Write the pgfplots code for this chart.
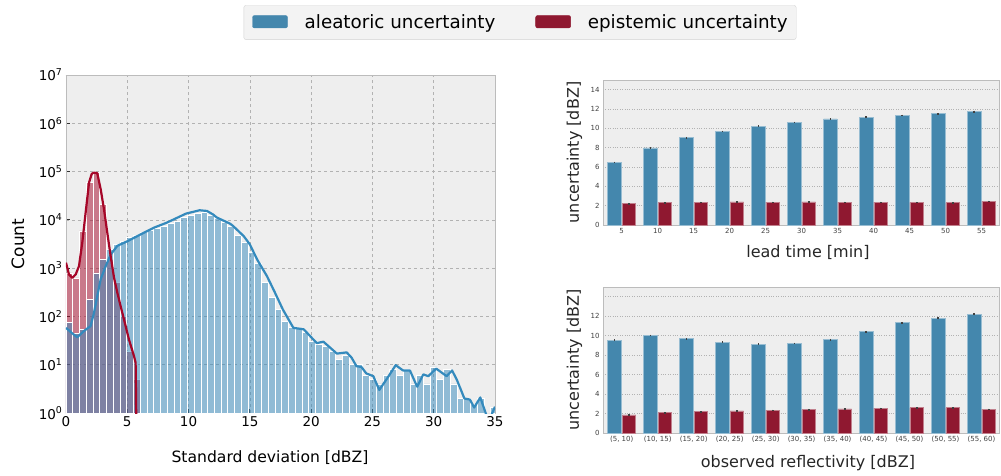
\documentclass[border=0pt]{standalone}
\usepackage{fontspec}
\setmainfont{DejaVu Sans}
\usepackage{pgfplots}
\pgfplotsset{compat=1.18}
\definecolor{bmhblue}{HTML}{348ABD}
\definecolor{bmhred}{HTML}{A60628}
\definecolor{barblue}{RGB}{68,135,173}
\definecolor{barred}{RGB}{143,24,48}
\definecolor{bgc}{HTML}{EEEEEE}
\definecolor{framec}{HTML}{BCBCBC}
\definecolor{gridc}{HTML}{B2B2B2}
\begin{document}
\begin{tikzpicture}
\path[use as bounding box] (0,0) rectangle (1001pt,475pt);
% ---------------- left histogram ----------------
\begin{axis}[
 at={(66pt,62pt)}, anchor=south west, scale only axis, width=429pt, height=338pt,
 xmin=0, xmax=35, ymin=1, ymax=1e7, ymode=log, log basis y=10,
 axis background/.style={fill=bgc},
 axis line style={framec, line width=0.8pt},
 grid=major, major grid style={gridc, dashed, line width=0.6pt},
 xtick={0,5,...,35}, ytick={1,10,100,1000,10000,100000,1000000,10000000},
 yticklabels={10\textsuperscript{0},10\textsuperscript{1},10\textsuperscript{2},10\textsuperscript{3},10\textsuperscript{4},10\textsuperscript{5},10\textsuperscript{6},10\textsuperscript{7}},
 tick align=inside, xtick pos=lower, ytick pos=lower,
 major tick length=4pt, minor tick length=2.5pt,
 tick style={black!80, line width=0.8pt},
 ticklabel style={font=\fontsize{13.5}{16}\selectfont},
 /pgf/number format/assume math mode=true,
 xlabel={Standard deviation [dBZ]}, ylabel={Count},
 xlabel style={font=\fontsize{15.6}{18}\selectfont, at={(axis description cs:0.4755,-0.132)}, anchor=center},
 ylabel style={font=\fontsize{17}{20}\selectfont, at={(axis description cs:-0.112,0.5)}, anchor=center},
]
% epistemic histogram
\addplot[ybar, bar width=0.55, bar shift=0pt, fill=bmhred, fill opacity=0.5, draw=white, line width=0.6pt] coordinates {
(0.275,800) (0.825,630) (1.375,5900) (1.925,59000) (2.475,95000) (3.025,21000)
(3.575,1500) (4.125,500) (4.675,100) (5.225,19) (5.775,5)
};
% aleatoric histogram
\addplot[ybar, bar width=0.55, bar shift=0pt, fill=bmhblue, fill opacity=0.5, draw=white, line width=0.6pt] coordinates {
(0.275,74) (0.825,45) (1.375,54) (1.925,225) (2.475,800) (3.025,1500)
(3.575,2450) (4.125,3100) (4.675,3600) (5.225,4300) (5.775,4800) (6.325,5400)
(6.875,6000) (7.425,6600) (7.975,7400) (8.525,8300) (9.075,9500) (9.625,11200)
(10.175,12600) (10.725,13800) (11.275,14100) (11.825,12600) (12.375,10700) (12.925,9100)
(13.475,7400) (14.025,4800) (14.575,3500) (15.125,2100) (15.675,1260) (16.225,500)
(16.775,250) (17.325,140) (17.875,80) (18.425,60) (18.975,58) (19.525,46)
(20.075,30) (20.625,27) (21.175,24) (21.725,19) (22.275,13) (22.825,16)
(23.375,10) (23.925,10) (24.475,6) (25.025,5) (25.575,4) (26.125,6)
(26.675,8) (27.225,6) (27.775,8) (28.325,4) (28.875,6) (29.425,4)
(29.975,9) (30.525,5) (31.075,8) (31.625,4) (32.175,2) (32.725,2)
(33.275,1.5) (33.825,2) (34.375,1) (34.925,1.3)
};
% aleatoric KDE
\addplot[bmhblue, line width=2.2pt, line join=round] coordinates {
(0,58) (0.5,45) (0.92,37) (1.47,50) (2.0,63) (2.28,117) (2.55,263) (2.83,590)
(3.24,1100) (3.64,1900) (4.19,2900) (5.0,3600) (6.09,5000) (7.18,6900) (8.2,8700)
(9.8,13500) (10.9,15800) (11.5,15300) (12.0,12900) (12.3,11200) (13.4,8300) (13.65,7400)
(14.5,4600) (15.0,3100) (15.6,1500) (16.4,680) (17.0,330) (17.7,138) (18.55,58) (19.4,54)
(20.46,28) (21.0,30) (22.1,17) (22.9,18) (23.3,14) (23.7,9.3) (24.1,9) (24.5,6.6)
(25.07,5.8) (25.56,3) (26.2,5.2) (26.9,9.8) (27.5,7.6) (28.06,7.6) (28.65,3.5)
(29.15,6.3) (29.56,5.8) (30.2,8.3) (31.05,5.8) (31.5,7.6) (31.9,4.8) (32.5,2)
(32.95,1.9) (33.3,1.3) (33.8,2.1) (34.3,0.9) (34.7,0.9) (35,1.35)
};
% epistemic KDE
\addplot[bmhred, line width=2.2pt, line join=round] coordinates {
(0,1300) (0.24,740) (0.52,630) (0.79,740) (1.06,1100) (1.33,3400) (1.6,14000)
(1.88,59000) (2.1,90000) (2.28,95000) (2.55,93000) (2.83,43000) (3.1,16600)
(3.37,5400) (3.64,1800) (3.92,630) (4.19,310) (4.46,162) (4.73,87) (5.14,33)
(5.55,15) (5.68,11) (5.74,0.5)
};
\end{axis}
% ---------------- right top: lead time ----------------
\begin{axis}[
 at={(603pt,250pt)}, anchor=south west, scale only axis, width=396.5pt, height=145pt,
 xmin=-0.52, xmax=10.5, ymin=0, ymax=15,
 axis background/.style={fill=bgc},
 axis line style={framec, line width=1pt},
 ymajorgrids, major grid style={gridc, dotted, line width=0.7pt},
 xtick={0,...,10}, xticklabels={5,10,15,20,25,30,35,40,45,50,55},
 ytick={0,2,...,14},
 major tick length=0pt,
 ticklabel style={font=\fontsize{7}{8}\selectfont, text=black!75},
 /pgf/number format/assume math mode=true,
 xlabel={lead time [min]}, ylabel={uncertainty [dBZ]},
 xlabel style={font=\fontsize{16}{19}\selectfont, at={(axis description cs:0.517,-0.19)}, anchor=center, text=black!85},
 ylabel style={font=\fontsize{16}{19}\selectfont, at={(axis description cs:-0.072,0.5)}, anchor=center, text=black!85},
 ybar=0pt, bar width=0.38,
 legend style={at={(axis description cs:-0.2093,1.3966)}, anchor=center, legend columns=2,
   draw=black!18, fill=bgc!70!white, rounded corners=2pt, font=\fontsize{18.3}{21}\selectfont,
   nodes={inner sep=0pt, text depth=0.2em},
   inner xsep=8.5pt, inner ysep=9pt,
   /tikz/every odd column/.append style={column sep=17pt},
   /tikz/every even column/.append style={column sep=40pt}},
 legend cell align=left,
]
\addlegendimage{legend image code/.code={\fill[barblue] (0pt,-5.5pt) rectangle (35pt,7pt);}}
\addlegendentry{aleatoric uncertainty}
\addlegendimage{legend image code/.code={\fill[barred] (0pt,-5.5pt) rectangle (35pt,7pt);}}
\addlegendentry{epistemic uncertainty}
\addplot[fill=barblue, draw=barblue!55!white, line width=0.6pt, bar shift=-0.2,
 error bars/.cd, y dir=both, y explicit, error mark=none, error bar style={line width=1.8pt, black!75}] coordinates {
(0,6.48) +- (0,0.08) (1,7.97) +- (0,0.08) (2,9.03) +- (0,0.08) (3,9.69) +- (0,0.08)
(4,10.24) +- (0,0.08) (5,10.62) +- (0,0.08) (6,10.97) +- (0,0.08) (7,11.17) +- (0,0.08)
(8,11.34) +- (0,0.08) (9,11.52) +- (0,0.08) (10,11.74) +- (0,0.08)
};
\addplot[fill=barred, draw=barred!55!white, line width=0.6pt, bar shift=0.2,
 error bars/.cd, y dir=both, y explicit, error mark=none, error bar style={line width=1.8pt, black!75}] coordinates {
(0,2.22) +- (0,0.06) (1,2.32) +- (0,0.06) (2,2.37) +- (0,0.06) (3,2.39) +- (0,0.06)
(4,2.37) +- (0,0.06) (5,2.39) +- (0,0.06) (6,2.37) +- (0,0.06) (7,2.37) +- (0,0.06)
(8,2.33) +- (0,0.06) (9,2.30) +- (0,0.06) (10,2.45) +- (0,0.06)
};
\end{axis}
% ---------------- right bottom: reflectivity ----------------
\begin{axis}[
 at={(603pt,42pt)}, anchor=south west, scale only axis, width=396.5pt, height=146pt,
 xmin=-0.52, xmax=10.5, ymin=0, ymax=15,
 axis background/.style={fill=bgc},
 axis line style={framec, line width=1pt},
 ymajorgrids, major grid style={gridc, dotted, line width=0.7pt},
 xtick={0,...,10}, xticklabels={{(5, 10)},{(10, 15)},{(15, 20)},{(20, 25)},{(25, 30)},{(30, 35)},{(35, 40)},{(40, 45)},{(45, 50)},{(50, 55)},{(55, 60)}},
 ytick={0,2,...,14}, yticklabels={0,2,4,6,8,10,12,{}},
 major tick length=0pt,
 ticklabel style={font=\fontsize{7}{8}\selectfont, text=black!75},
 /pgf/number format/assume math mode=true,
 xlabel={observed reflectivity [dBZ]}, ylabel={uncertainty [dBZ]},
 xlabel style={font=\fontsize{16}{19}\selectfont, at={(axis description cs:0.517,-0.205)}, anchor=center, text=black!85},
 ylabel style={font=\fontsize{16}{19}\selectfont, at={(axis description cs:-0.072,0.5)}, anchor=center, text=black!85},
 ybar=0pt, bar width=0.38,
]
\addplot[fill=barblue, draw=barblue!55!white, line width=0.6pt, bar shift=-0.2,
 error bars/.cd, y dir=both, y explicit, error mark=none, error bar style={line width=1.8pt, black!75}] coordinates {
(0,9.55) +- (0,0.08) (1,10.03) +- (0,0.08) (2,9.69) +- (0,0.08) (3,9.34) +- (0,0.08)
(4,9.14) +- (0,0.08) (5,9.21) +- (0,0.08) (6,9.59) +- (0,0.08) (7,10.41) +- (0,0.08)
(8,11.34) +- (0,0.08) (9,11.79) +- (0,0.08) (10,12.2) +- (0,0.1)
};
\addplot[fill=barred, draw=barred!55!white, line width=0.6pt, bar shift=0.2,
 error bars/.cd, y dir=both, y explicit, error mark=none, error bar style={line width=1.8pt, black!75}] coordinates {
(0,1.86) +- (0,0.06) (1,2.1) +- (0,0.06) (2,2.2) +- (0,0.06) (3,2.28) +- (0,0.06)
(4,2.34) +- (0,0.06) (5,2.41) +- (0,0.06) (6,2.48) +- (0,0.06) (7,2.55) +- (0,0.06)
(8,2.59) +- (0,0.06) (9,2.59) +- (0,0.06) (10,2.45) +- (0,0.06)
};
\end{axis}
\end{tikzpicture}
\end{document}
